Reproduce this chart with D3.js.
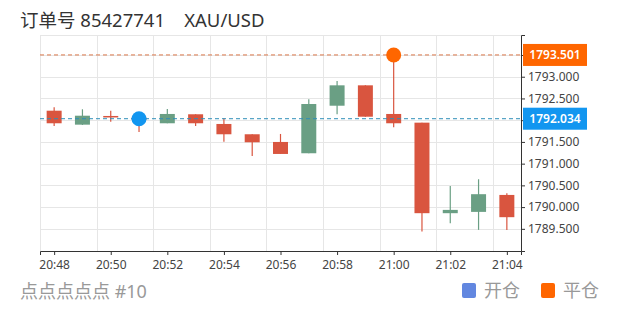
<!DOCTYPE html>
<html><head><meta charset="utf-8">
<script src="https://cdn.jsdelivr.net/npm/d3@7/dist/d3.min.js"></script>
<style>
html,body{margin:0;padding:0;background:#fff;}
text{font-family:"Noto Sans","Noto Sans CJK SC",sans-serif;}
</style></head>
<body><svg id="c" width="620" height="310"></svg>
<script>
// ---- data ----
const times = ["20:48","20:49","20:50","20:51","20:52","20:53","20:54","20:55","20:56","20:57","20:58","20:59","21:00","21:01","21:02","21:03","21:04"];
const opens  = [1792.218,1791.897,1792.097,1792.060,1791.929,1792.136,1791.913,1791.676,1791.499,1791.239,1792.333,1792.802,1792.143,1791.943,1789.860,1789.890,1790.280];
const closes = [1791.929,1792.103,1792.067,1792.010,1792.143,1791.929,1791.676,1791.492,1791.223,1792.372,1792.802,1792.080,1791.929,1789.860,1789.936,1790.297,1789.768];
const highs  = [1792.297,1792.251,1792.218,1792.100,1792.257,1792.136,1792.044,1791.676,1791.683,1792.480,1792.901,1792.802,1793.501,1791.943,1790.487,1790.641,1790.320];
const lows   = [1791.867,1791.890,1791.966,1791.729,1791.929,1791.867,1791.506,1791.177,1791.223,1791.239,1792.136,1792.080,1791.837,1789.437,1789.630,1789.476,1789.476];
const yTicks = [1789.5,1790,1790.5,1791,1791.5,1792,1792.5,1793,1793.5];
const xTickLabels = ["20:48","20:50","20:52","20:54","20:56","20:58","21:00","21:02","21:04"];
const openMarker = {time:"20:51", price:1792.034};
const closeMarker = {time:"21:00", price:1793.501};
const title = "订单号 85427741    XAU/USD";
const footer = "点点点点点 #10";
const legendItems = [{name:"开仓", color:"#6287e0"},{name:"平仓", color:"#ff6600"}];

// ---- helpers ----
const T = s => { const [h,m] = s.split(":").map(Number); return new Date(2021,0,1,h,m,0); };
const candles = times.map((t,i)=>({t:T(t),o:opens[i],c:closes[i],h:highs[i],l:lows[i]}));

const svg = d3.select("#c");
const L=40, R=521, TOP=35, B=251;
const x = d3.scaleTime().domain([new Date(2021,0,1,20,47,30), new Date(2021,0,1,21,4,30)]).range([L,R]);
const y = d3.scaleLinear().domain([1788.99,1793.96]).range([B,TOP]);
const minW = x(T("20:49")) - x(T("20:48"));
const cw = minW*0.53;

// grid
const g = svg.append("g");
g.append("line").attr("x1",L).attr("x2",R).attr("y1",TOP+0.5).attr("y2",TOP+0.5).attr("stroke","#e6e6e6");
g.selectAll(".hg").data(yTicks).join("line")
  .attr("x1",L).attr("x2",R).attr("y1",d=>Math.round(y(d))+0.5).attr("y2",d=>Math.round(y(d))+0.5)
  .attr("stroke","#e6e6e6");
const vgrid = xTickLabels.map(s=>new Date(T(s).getTime()-30000));
g.selectAll(".vg").data(vgrid).join("line")
  .attr("x1",d=>Math.round(x(d))+0.5).attr("x2",d=>Math.round(x(d))+0.5).attr("y1",TOP).attr("y2",B)
  .attr("stroke","#e6e6e6");

// axes
const xAxis = d3.axisBottom(x).tickValues(xTickLabels.map(T)).tickFormat(d3.timeFormat("%H:%M")).tickSizeOuter(0).tickSize(4);
const xa = svg.append("g").attr("transform",`translate(0,${B})`).call(xAxis);
xa.select(".domain").attr("stroke","#333");
xa.selectAll(".tick line").attr("stroke","#333");
xa.selectAll("text").attr("fill","#444").attr("font-size",12).attr("dy","0.9em");

// labels hidden where the marker price boxes sit
const covered = v => [openMarker.price, closeMarker.price].some(p => Math.abs(y(p)-y(v)) < 12);
const yAxis = d3.axisRight(y).tickValues(yTicks).tickFormat(v => covered(v) ? "" : d3.format(".3f")(v)).tickSizeOuter(0).tickSize(4);
const ya = svg.append("g").attr("transform",`translate(${R},0)`).call(yAxis);
ya.select(".domain").attr("stroke","#333");
ya.selectAll(".tick line").attr("stroke","#333");
ya.selectAll("text").attr("fill","#444").attr("font-size",12).attr("x",7);

// candles
const UP="#6a9f84", DN="#d9553f";
const cg = svg.append("g");
cg.selectAll(".wick").data(candles).join("line")
  .attr("x1",d=>x(d.t)).attr("x2",d=>x(d.t)).attr("y1",d=>y(d.h)).attr("y2",d=>y(d.l))
  .attr("stroke",d=>d.c>=d.o?UP:DN).attr("stroke-width",1.2);
cg.selectAll(".body").data(candles).join("rect")
  .attr("x",d=>x(d.t)-cw/2).attr("width",cw)
  .attr("y",d=>y(Math.max(d.o,d.c))).attr("height",d=>Math.max(1.5,Math.abs(y(d.o)-y(d.c))))
  .attr("fill",d=>d.c>=d.o?UP:DN);

// dashed price lines
svg.append("line").attr("x1",L).attr("x2",R).attr("y1",y(closeMarker.price)).attr("y2",y(closeMarker.price))
  .attr("stroke","#d9764a").attr("stroke-dasharray","4,3").attr("stroke-width",1);
svg.append("line").attr("x1",L).attr("x2",R).attr("y1",y(openMarker.price)).attr("y2",y(openMarker.price))
  .attr("stroke","#2f8fb8").attr("stroke-dasharray","4,3").attr("stroke-width",1);

// markers
svg.append("circle").attr("cx",x(T(openMarker.time))).attr("cy",y(openMarker.price)).attr("r",7.5).attr("fill","#1296f0");
svg.append("circle").attr("cx",x(T(closeMarker.time))).attr("cy",y(closeMarker.price)).attr("r",7.5).attr("fill","#ff6600");

// price labels
function priceLabel(p,color){
  const gy = y(p);
  svg.append("rect").attr("x",R+2).attr("y",gy-11).attr("width",64).attr("height",22).attr("fill",color);
  svg.append("text").attr("x",R+2+32).attr("y",gy).attr("dy","0.35em").attr("text-anchor","middle")
    .attr("fill","#fff").attr("font-size",12).attr("font-weight","600").text(d3.format(".3f")(p));
}
priceLabel(closeMarker.price,"#ff6600");
priceLabel(openMarker.price,"#1296f0");

// title & footer
svg.append("text").attr("x",20).attr("y",27).attr("font-size",18.5).attr("fill","#333").attr("xml:space","preserve").style("white-space","pre").text(title);
svg.append("text").attr("x",20).attr("y",298).attr("font-size",18).attr("fill","#999").text(footer);

// legend
const lx = [462, 541];
legendItems.forEach((it,i)=>{
  svg.append("rect").attr("x",lx[i]).attr("y",283).attr("width",14).attr("height",15).attr("rx",2).attr("fill",it.color);
  svg.append("text").attr("x",lx[i]+22).attr("y",297).attr("font-size",18).attr("fill","#999").text(it.name);
});
</script></body></html>
